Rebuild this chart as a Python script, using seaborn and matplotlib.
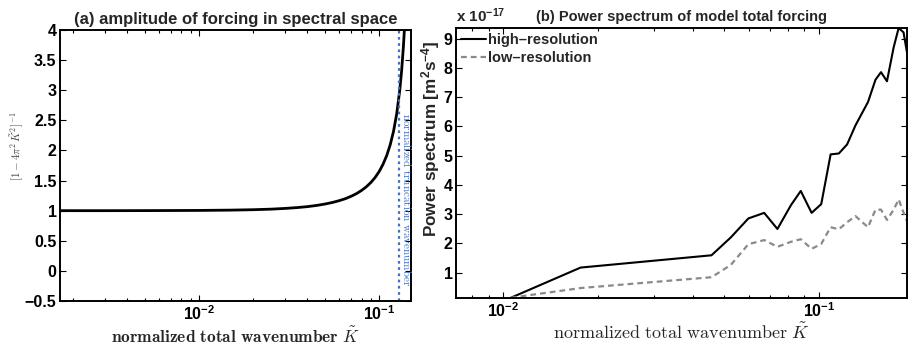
import matplotlib
matplotlib.use("Agg")
import matplotlib.pyplot as plt
import seaborn as sns
import pandas as pd
from matplotlib.ticker import FixedLocator, FixedFormatter, LogLocator, NullFormatter

# ---------------- data ----------------
# Panel (a): amplitude of forcing vs normalized wavenumber
k_amp = [0.0017, 0.003, 0.005, 0.01, 0.015, 0.02, 0.025, 0.03, 0.035, 0.04,
         0.045, 0.05, 0.055, 0.06, 0.065, 0.07, 0.075, 0.08, 0.085, 0.09,
         0.095, 0.10, 0.105, 0.11, 0.115, 0.12, 0.125, 0.13, 0.133, 0.136,
         0.1378, 0.139]
amp = [1.000, 1.000, 1.001, 1.004, 1.009, 1.016, 1.025, 1.037, 1.051, 1.067,
       1.087, 1.110, 1.136, 1.166, 1.200, 1.240, 1.285, 1.338, 1.399, 1.470,
       1.553, 1.652, 1.771, 1.915, 2.093, 2.317, 2.610, 3.005, 3.315, 3.706,
       3.994, 4.215]
k_trunc = 0.129

# Panel (b): power spectrum (units of 1e-17 m^2 s^-4)
k_spec = [0.0106, 0.0176, 0.0457, 0.0526, 0.0598, 0.0671, 0.0739, 0.0815,
          0.0876, 0.0948, 0.1017, 0.1089, 0.1156, 0.1228, 0.1305, 0.1430,
          0.1510, 0.1572, 0.1642, 0.1724, 0.1788, 0.1853, 0.1895, 0.195]
power_high = [0.14, 1.17, 1.59, 2.20, 2.85, 3.04, 2.49, 3.30, 3.79, 3.04,
              3.34, 5.04, 5.07, 5.38, 6.03, 6.83, 7.59, 7.85, 7.54, 8.70,
              9.36, 9.21, 8.59, 7.90]
power_low = [0.14, 0.47, 0.84, 1.26, 1.97, 2.11, 1.88, 2.05, 2.14, 1.81,
             1.98, 2.55, 2.48, 2.72, 2.93, 2.55, 3.15, 3.15, 2.80, 3.15,
             3.50, 3.05, 2.79, 2.60]
series_names = ["high\u2013resolution", "low\u2013resolution"]

amp_yticks = [-0.5, 0, 0.5, 1, 1.5, 2, 2.5, 3, 3.5, 4]
amp_yticklabels = ["\u22120.5", "0", "0.5", "1", "1.5", "2", "2.5", "3", "3.5", "4"]
spec_yticks = [1, 2, 3, 4, 5, 6, 7, 8, 9]
spec_yticklabels = ["1", "2", "3", "4", "5", "6", "7", "8", "9"]
x_ticks = [1e-2, 1e-1]
x_ticklabels = [r"$\mathrm{10^{-2}}$", r"$\mathrm{10^{-1}}$"]

# ---------------- style ----------------
sns.set_style("ticks")
plt.rcParams["font.family"] = ["Liberation Sans", "DejaVu Sans"]
plt.rcParams["font.weight"] = "bold"
plt.rcParams["mathtext.fontset"] = "custom"
plt.rcParams["mathtext.rm"] = "Liberation Sans:bold"
plt.rcParams["mathtext.bf"] = "Liberation Sans:bold"
plt.rcParams["mathtext.it"] = "Liberation Sans:bold:italic"
plt.rcParams["mathtext.default"] = "it"
plt.rcParams["axes.linewidth"] = 1.4
plt.rcParams["axes.edgecolor"] = "black"

fig = plt.figure(figsize=(9.08, 3.5), dpi=100)
axA = fig.add_axes([60 / 908, 1 - 301 / 350, 351 / 908, 271 / 350])
axB = fig.add_axes([456 / 908, 1 - 298 / 350, 451 / 908, 270 / 350])

for ax in (axA, axB):
    ax.set_xscale("log")
    ax.tick_params(which="both", direction="in", top=True, right=True,
                   labelsize=11.5, colors="black", width=0.8, pad=2.5)
    ax.tick_params(which="major", length=4)
    ax.tick_params(which="minor", length=2.5)
    ax.xaxis.set_major_locator(FixedLocator(x_ticks))
    ax.xaxis.set_major_formatter(FixedFormatter(x_ticklabels))
    ax.xaxis.set_minor_locator(LogLocator(base=10, subs=range(2, 10), numticks=20))
    ax.xaxis.set_minor_formatter(NullFormatter())
    for s in ax.spines.values():
        s.set_visible(True)
        s.set_linewidth(1.4)

# ---------------- panel (a) ----------------
dfA = pd.DataFrame({"k": k_amp, "amp": amp})
sns.lineplot(data=dfA, x="k", y="amp", ax=axA, color="black", lw=2.0)
axA.axvline(k_trunc, color="#3f6fc4", lw=1.6, ls=(0, (1.2, 1.6)))
axA.set_xlim(0.0017, 0.150)
axA.set_ylim(-0.5, 4)
axA.yaxis.set_major_locator(FixedLocator(amp_yticks))
axA.yaxis.set_major_formatter(FixedFormatter(amp_yticklabels))
axA.text(0.1318, 1.18, r"$\mathrm{normalized\ truncation\ wavenumber}$",
         rotation=270, ha="left", va="center", fontsize=8, color="#3f6fc4",
         math_fontfamily="cm")
axA.set_title("(a) amplitude of forcing in spectral space", fontsize=12,
              fontweight="bold", pad=4)
axA.set_xlabel(r"$\mathbf{normalized\ total\ wavenumber}\ \boldsymbol{\tilde{K}}$",
               fontsize=12.5, math_fontfamily="cm", labelpad=2)
axA.set_ylabel(r"$[1-4\pi^2\,\tilde{K}^2]^{-1}$", fontsize=8,
               math_fontfamily="cm", color="#444444")
axA.yaxis.set_label_coords(-0.097, 0.57)

# ---------------- panel (b) ----------------
dfB = pd.DataFrame({
    "k": k_spec * 2,
    "power": power_high + power_low,
    "series": [series_names[0]] * len(k_spec) + [series_names[1]] * len(k_spec),
})
sns.lineplot(data=dfB[dfB.series == series_names[0]], x="k", y="power", ax=axB,
             color="black", lw=1.5, label=series_names[0])
sns.lineplot(data=dfB[dfB.series == series_names[1]], x="k", y="power", ax=axB,
             color="#8a8a8a", lw=1.6, ls=(0, (2.6, 1.8)), label=series_names[1])
axB.set_xlim(0.0071, 0.19)
axB.set_ylim(0.13, 9.36)
axB.yaxis.set_major_locator(FixedLocator(spec_yticks))
axB.yaxis.set_major_formatter(FixedFormatter(spec_yticklabels))
axB.set_title("(b) Power spectrum of model total forcing", fontsize=10.5,
              fontweight="bold", pad=5)
axB.set_xlabel(r"$\mathrm{normalized\ total\ wavenumber}\ \tilde{K}$",
               fontsize=13, math_fontfamily="cm", labelpad=2)
axB.set_ylabel(r"Power spectrum [m$\mathrm{^2}$s$\mathrm{^{-4}}$]", fontsize=12.3,
               fontweight="bold")
axB.yaxis.set_label_coords(-0.031, 0.59)
axB.text(0.0, 1.01, r"x $\mathrm{10^{-17}}$", transform=axB.transAxes, ha="left",
         va="bottom", fontsize=11, fontweight="bold")
leg = axB.legend(loc="upper left", frameon=False, fontsize=10.5,
                 handlelength=1.7, handletextpad=0.15, labelspacing=0.3,
                 borderaxespad=0.2, borderpad=0.15)
for t in leg.get_texts():
    t.set_fontweight("bold")

fig.savefig("out.png", dpi=100)
